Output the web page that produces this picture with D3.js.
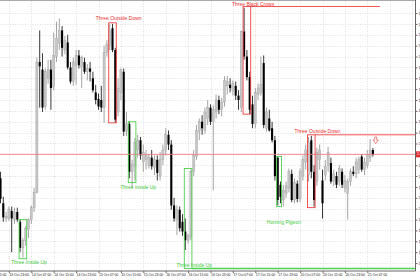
<!DOCTYPE html>
<html>
<head>
<meta charset="utf-8">
<script src="https://cdn.jsdelivr.net/npm/d3@7/dist/d3.min.js"></script>
<style>
  body { margin: 0; background: #fff; }
  svg { display: block; }
</style>
</head>
<body>
<div id="chart"></div>
<script>
// hourly bars, 13 Oct 20:00 -> 21 Oct 09:00
var open = [1.5988,1.5965,1.5951,1.5951,1.5958,1.5950,1.5957,1.5948,1.5924,1.5931,
  1.5941,1.5950,1.5961,1.5975,1.6095,1.6088,1.6054,1.6080,1.6088,1.6072,
  1.6100,1.6112,1.6124,1.6106,1.6113,1.6090,1.6077,1.6092,1.6101,1.6091,
  1.6095,1.6086,1.6089,1.6080,1.6067,1.6061,1.6060,1.6053,1.6104,1.6110,
  1.6126,1.6106,1.6049,1.6067,1.6086,1.6031,1.6038,1.5994,1.5999,1.6014,
  1.6023,1.6003,1.6005,1.6000,1.6007,1.5998,1.6005,1.5990,1.6005,1.6014,
  1.6028,1.6019,1.5963,1.5950,1.5959,1.5948,1.5939,1.5931,1.5934,1.5994,
  1.6008,1.6031,1.6040,1.6032,1.6043,1.6053,1.6040,1.6049,1.6060,1.6051,
  1.6058,1.6073,1.6074,1.6069,1.6073,1.6064,1.6053,1.6123,1.6100,1.6081,
  1.6056,1.6038,1.6065,1.6067,1.6094,1.6034,1.6043,1.6034,1.6023,1.6007,
  1.5982,1.5968,1.5974,1.5979,1.5992,1.5968,1.5983,1.5969,1.5990,1.6003,
  1.5991,1.6023,1.5994,1.5985,1.6005,1.5986,1.5991,1.6000,1.6002,1.5985,
  1.5990,1.5985,1.5994,1.5979,1.5974,1.5985,1.5994,1.5992,1.5996,1.6008,
  1.5996,1.6000,1.6007,1.6014];
var high = [1.5994,1.5971,1.5957,1.5962,1.5962,1.5961,1.5961,1.5950,1.5933,1.5944,
  1.5951,1.5963,1.5979,1.6099,1.6124,1.6103,1.6089,1.6097,1.6097,1.6122,
  1.6132,1.6135,1.6128,1.6119,1.6120,1.6095,1.6099,1.6106,1.6106,1.6101,
  1.6099,1.6093,1.6095,1.6086,1.6074,1.6066,1.6073,1.6110,1.6115,1.6130,
  1.6130,1.6108,1.6080,1.6089,1.6089,1.6049,1.6040,1.6005,1.6025,1.6028,
  1.6026,1.6019,1.6014,1.6010,1.6014,1.6009,1.6009,1.6012,1.6019,1.6034,
  1.6032,1.6023,1.5970,1.5963,1.5962,1.5955,1.5951,1.5937,1.5996,1.6014,
  1.6037,1.6043,1.6046,1.6053,1.6060,1.6056,1.6055,1.6065,1.6064,1.6062,
  1.6082,1.6082,1.6080,1.6078,1.6077,1.6069,1.6124,1.6145,1.6106,1.6086,
  1.6064,1.6071,1.6075,1.6100,1.6101,1.6053,1.6051,1.6040,1.6027,1.6008,
  1.5985,1.5982,1.5985,1.5997,1.5996,1.5988,1.5986,1.5997,1.6009,1.6019,
  1.6026,1.6027,1.6000,1.6016,1.6019,1.5996,1.6005,1.6017,1.6007,1.5996,
  1.5994,1.6000,1.5997,1.5991,1.5988,1.5997,1.5999,1.6007,1.6008,1.6010,
  1.6007,1.6014,1.6024,1.6016];
var low = [1.5965,1.5948,1.5948,1.5949,1.5920,1.5946,1.5948,1.5920,1.5915,1.5926,
  1.5933,1.5946,1.5957,1.5974,1.6053,1.6049,1.6051,1.6075,1.6051,1.6069,
  1.6095,1.6106,1.6100,1.6102,1.6088,1.6075,1.6073,1.6074,1.6089,1.6071,
  1.6084,1.6078,1.6077,1.6067,1.6056,1.6051,1.6049,1.6039,1.6100,1.6106,
  1.6104,1.6039,1.6045,1.6060,1.6027,1.6027,1.5988,1.5979,1.5986,1.6007,
  1.6005,1.5994,1.5996,1.5997,1.5996,1.5991,1.5986,1.5986,1.6000,1.6009,
  1.6014,1.5959,1.5948,1.5936,1.5939,1.5935,1.5922,1.5928,1.5931,1.5990,
  1.6005,1.6023,1.6028,1.6029,1.6037,1.6037,1.5977,1.6043,1.6047,1.6045,
  1.6054,1.6065,1.6067,1.6064,1.6060,1.6051,1.6049,1.6097,1.6078,1.6047,
  1.6034,1.6034,1.6060,1.6064,1.6034,1.6031,1.6031,1.6021,1.5986,1.5963,
  1.5965,1.5962,1.5970,1.5975,1.5966,1.5965,1.5966,1.5966,1.5986,1.5996,
  1.5985,1.5988,1.5962,1.5981,1.5996,1.5951,1.5986,1.5994,1.5983,1.5981,
  1.5979,1.5981,1.5979,1.5975,1.5950,1.5981,1.5990,1.5988,1.5992,1.5994,
  1.5991,1.5997,1.6003,1.6008];
var close = [1.5969,1.5952,1.5953,1.5959,1.5951,1.5957,1.5950,1.5924,1.5931,1.5942,
  1.5950,1.5961,1.5975,1.6095,1.6091,1.6053,1.6086,1.6088,1.6071,1.6101,
  1.6117,1.6124,1.6108,1.6115,1.6090,1.6077,1.6095,1.6101,1.6092,1.6099,
  1.6086,1.6089,1.6086,1.6069,1.6060,1.6054,1.6053,1.6104,1.6111,1.6124,
  1.6106,1.6042,1.6071,1.6088,1.6031,1.6038,1.5994,1.6001,1.6021,1.6023,
  1.6009,1.6012,1.6009,1.6007,1.5999,1.6005,1.5993,1.6005,1.6014,1.6028,
  1.6019,1.5963,1.5951,1.5959,1.5942,1.5939,1.5931,1.5935,1.5994,1.6009,
  1.6032,1.6040,1.6034,1.6049,1.6053,1.6040,1.6051,1.6060,1.6051,1.6058,
  1.6078,1.6077,1.6071,1.6075,1.6064,1.6060,1.6123,1.6100,1.6081,1.6051,
  1.6038,1.6067,1.6071,1.6074,1.6037,1.6049,1.6032,1.6023,1.5990,1.5968,
  1.5971,1.5977,1.5981,1.5994,1.5968,1.5984,1.5969,1.5994,1.6005,1.6014,
  1.6021,1.5994,1.5968,1.6012,1.6014,1.5965,1.5999,1.6012,1.5985,1.5992,
  1.5982,1.5997,1.5982,1.5986,1.5985,1.5994,1.5992,1.6003,1.6005,1.5996,
  1.6003,1.6010,1.6014,1.6010];

// time axis labels (bar index of each label)
var timeIdx = [-5, 3, 11, 19, 27, 35, 43, 51, 59, 67, 75, 83, 91, 99, 107, 115, 123, 131];
var timeLabels = ["13 Oct 15:00", "13 Oct 23:00", "14 Oct 07:00", "14 Oct 15:00", "14 Oct 23:00",
  "15 Oct 07:00", "15 Oct 15:00", "15 Oct 23:00", "16 Oct 07:00", "16 Oct 15:00",
  "16 Oct 23:00", "17 Oct 07:00", "17 Oct 15:00", "17 Oct 23:00", "20 Oct 07:00",
  "20 Oct 15:00", "20 Oct 23:00", "21 Oct 07:00"];

// price axis labels
var priceTicks = d3.range(0, 24).map(function(k) { return +(1.6140 - k * 0.0010).toFixed(4); });

// candlestick patterns
var patName = ["Three Inside Up", "Three Outside Down", "Three Inside Up", "Three Inside Up",
  "Three Black Crows", "Homing Pigeon", "Three Outside Down"];
var patStart = [7, 39, 46, 66, 87, 99, 110];
var patEnd = [9, 41, 48, 68, 89, 100, 112];
var patHigh = [1.5950, 1.6131, 1.6040, 1.5997, 1.6146, 1.6008, 1.6028];
var patLow = [1.5914, 1.6039, 1.5984, 1.5905, 1.6047, 1.5962, 1.5961];
var patBull = [true, false, true, true, false, true, false];
var patLabelAt = [1.5910, 1.6135, 1.5979, 1.5908, 1.6148, 1.5947, 1.6031];
var patLevelEnd = [null, null, null, 148, 135.5, null, 148];

// signal arrow
var arrowIdx = [134];
var arrowPrice = [1.6026];

var svgWidth = 420;
var svgHeight = 280;
var plotRight = 415.5;
var plotBottom = 271;

var svg = d3.select("#chart")
  .append("svg")
  .attr("width", svgWidth)
  .attr("height", svgHeight)
  .style("background", "#fff");

var x = d3.scaleLinear().domain([0, 148]).range([0.5, 0.5 + 2.8 * 148]);
var y = d3.scaleLinear().domain([1.59027, 1.6152]).range([plotBottom, 0]);

var green = "#4fd04f";
var red = "#ee4040";
var font = "'Liberation Sans', Arial, sans-serif";

// grid
var grid = svg.append("g");
grid.selectAll(".hg")
  .data(priceTicks)
  .enter()
  .append("line")
  .attr("x1", 0).attr("x2", plotRight)
  .attr("y1", d => Math.round(y(d)) + 0.5)
  .attr("y2", d => Math.round(y(d)) + 0.5)
  .attr("stroke", "#d4d4d4")
  .attr("stroke-width", 0.7)
  .attr("stroke-dasharray", "1,1.5");

var gridIdx = d3.range(3, 149, 8);
grid.selectAll(".vg")
  .data(gridIdx)
  .enter()
  .append("line")
  .attr("x1", d => Math.round(x(d)) + 0.5)
  .attr("x2", d => Math.round(x(d)) + 0.5)
  .attr("y1", 1).attr("y2", plotBottom)
  .attr("stroke", "#d4d4d4")
  .attr("stroke-width", 0.7)
  .attr("stroke-dasharray", "1,1.5");

// top frame
svg.append("line")
  .attr("x1", 0).attr("x2", plotRight)
  .attr("y1", 0.5).attr("y2", 0.5)
  .attr("stroke", "#aaa");

// candles
var bars = d3.range(open.length);
var candles = svg.append("g");

candles.selectAll(".wick")
  .data(bars)
  .enter()
  .append("line")
  .attr("x1", i => x(i)).attr("x2", i => x(i))
  .attr("y1", i => y(high[i])).attr("y2", i => y(low[i]))
  .attr("stroke", i => close[i] >= open[i] ? "#9a9a9a" : "#222")
  .attr("stroke-width", 0.9);

candles.selectAll(".body")
  .data(bars)
  .enter()
  .append("rect")
  .attr("x", i => x(i) - 1.05)
  .attr("width", 2.1)
  .attr("y", i => y(Math.max(open[i], close[i])))
  .attr("height", i => Math.max(0.8, Math.abs(y(open[i]) - y(close[i]))))
  .attr("fill", i => close[i] >= open[i] ? "#c6c6c6" : "#000")
  .attr("stroke", i => close[i] >= open[i] ? "#a0a0a0" : "none")
  .attr("stroke-width", 0.4);

// bid line
var last = close[close.length - 1];
svg.append("line")
  .attr("x1", 0).attr("x2", plotRight)
  .attr("y1", y(last)).attr("y2", y(last))
  .attr("stroke", "#ee8080")
  .attr("stroke-width", 0.9);

// pattern boxes, level lines and labels
var pats = d3.range(patName.length);
var patGroup = svg.append("g");

patGroup.selectAll(".box")
  .data(pats)
  .enter()
  .append("rect")
  .attr("x", p => x(patStart[p]) - 1)
  .attr("y", p => y(patHigh[p]))
  .attr("width", p => x(patEnd[p]) - x(patStart[p]) + 2)
  .attr("height", p => y(patLow[p]) - y(patHigh[p]))
  .attr("fill", "none")
  .attr("stroke", p => patBull[p] ? green : red)
  .attr("stroke-width", 0.9);

patGroup.selectAll(".level")
  .data(pats.filter(p => patLevelEnd[p] !== null))
  .enter()
  .append("line")
  .attr("x1", p => x(patEnd[p]) + 1)
  .attr("x2", p => Math.min(plotRight, x(patLevelEnd[p])))
  .attr("y1", p => y(patBull[p] ? patLow[p] : patHigh[p]))
  .attr("y2", p => y(patBull[p] ? patLow[p] : patHigh[p]))
  .attr("stroke", p => patBull[p] ? green : red)
  .attr("stroke-width", p => patBull[p] ? 1.3 : 0.9);

patGroup.selectAll(".plabel")
  .data(pats)
  .enter()
  .append("text")
  .attr("x", p => x(patEnd[p] + 1.2))
  .attr("y", p => y(patLabelAt[p]))
  .attr("text-anchor", "middle")
  .attr("dominant-baseline", "middle")
  .attr("font-family", font)
  .attr("font-size", 5)
  .attr("fill", p => patBull[p] ? "#3fcc3f" : "#ee3030")
  .text(p => patName[p]);

// signal arrow (outlined, pointing down)
svg.selectAll(".arrow")
  .data(arrowIdx)
  .enter()
  .append("path")
  .attr("d", function(d, k) {
    var cx = x(d), top = y(arrowPrice[k]);
    return "M" + (cx - 1) + "," + top + "h2v3.2h1.6l-2.6,3.6l-2.6,-3.6h1.6z";
  })
  .attr("fill", "#fff")
  .attr("stroke", red)
  .attr("stroke-width", 0.6);

// right price axis
var yAxis = svg.append("g")
  .attr("transform", `translate(${plotRight}, 0)`)
  .call(d3.axisRight(y)
    .tickValues(priceTicks)
    .tickSize(2)
    .tickSizeOuter(0)
    .tickPadding(1)
    .tickFormat(d3.format(".4f")));
yAxis.select(".domain").remove();
yAxis.selectAll("line").attr("stroke", "#666");
yAxis.selectAll("text")
  .attr("font-family", font)
  .attr("font-size", 3.4)
  .attr("fill", "#222");

svg.append("line")
  .attr("x1", plotRight).attr("x2", plotRight)
  .attr("y1", 0).attr("y2", plotBottom)
  .attr("stroke", "#666");

// current price tag
svg.append("rect")
  .attr("x", plotRight + 0.5)
  .attr("y", y(last) - 3)
  .attr("width", 6)
  .attr("height", 6)
  .attr("fill", "#e03030");
svg.append("text")
  .attr("x", plotRight + 1.5)
  .attr("y", y(last))
  .attr("dominant-baseline", "middle")
  .attr("font-family", font)
  .attr("font-size", 3.4)
  .attr("fill", "#fff")
  .text(d3.format(".4f")(last));

// bottom time axis
var xAxis = svg.append("g")
  .attr("transform", `translate(0, ${plotBottom})`)
  .call(d3.axisBottom(x)
    .tickValues(timeIdx)
    .tickSize(2)
    .tickSizeOuter(0)
    .tickPadding(0.5)
    .tickFormat((d, k) => timeLabels[k]));
xAxis.select(".domain").remove();
xAxis.selectAll("line").attr("stroke", "#666");
xAxis.selectAll("text")
  .attr("text-anchor", "start")
  .attr("font-family", font)
  .attr("font-size", 3.4)
  .attr("fill", "#222");

svg.append("line")
  .attr("x1", 0).attr("x2", plotRight)
  .attr("y1", plotBottom).attr("y2", plotBottom)
  .attr("stroke", "#666");
</script>
</body>
</html>
